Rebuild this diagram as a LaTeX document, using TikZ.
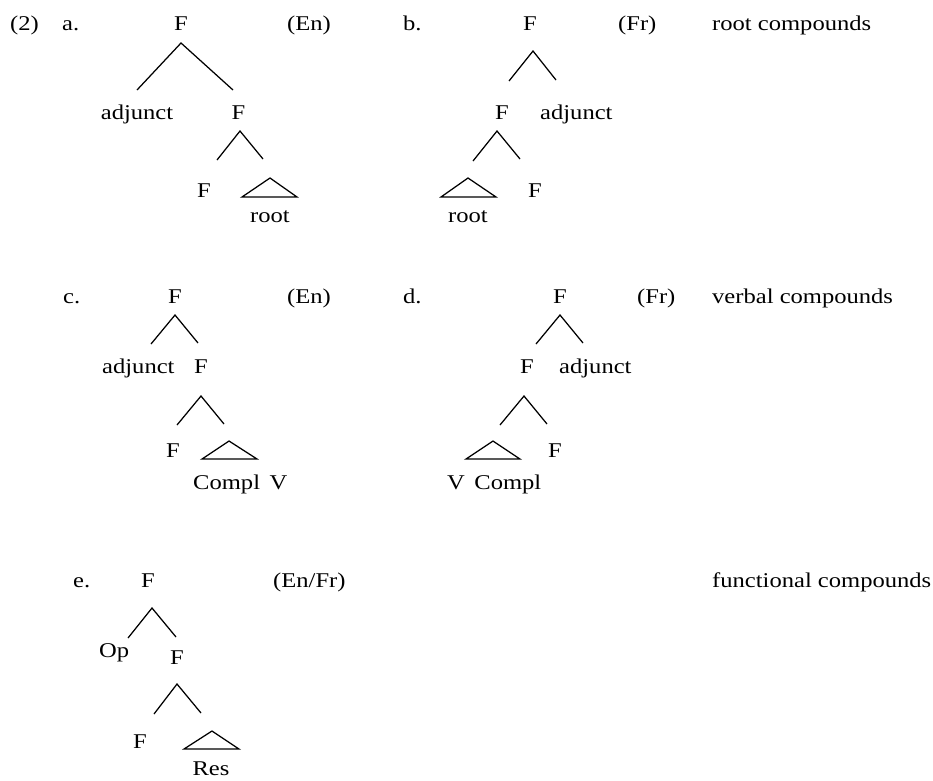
\documentclass[tikz,border=0pt]{standalone}
\usepackage{fontspec}
\setmainfont[FakeStretch=1.17]{Liberation Serif}
\begin{document}
\begin{tikzpicture}[x=1pt,y=-1pt,
  lab/.style={inner sep=0pt,anchor=base,font=\fontsize{21}{25}\selectfont},
  labw/.style={lab,anchor=base west},
  br/.style={line width=1.25pt},
  tri/.style={line width=1.25pt,line join=miter}]
\useasboundingbox (0,0) rectangle (933,780);
% ---------- row 1 ----------
\node[labw] (n2) at (10,30) {(2)};
\node[labw] (la) at (62,30) {a.};
\node[lab] (aF1) at (181,30) {F};
\node[labw] (aEn) at (287,30) {(En)};
\node[labw] (lb) at (403,30) {b.};
\node[lab] (bF1) at (530,30) {F};
\node[labw] (bFr) at (618,30) {(Fr)};
\node[labw] (rc) at (712,30) {root compounds};
% tree a
\coordinate (aA1) at (181,43); \coordinate (aL1) at (137,90); \coordinate (aR1) at (233,90);
\draw[br] (aL1) -- (aA1) -- (aR1);
\node[lab] (aAdj) at (137,119) {adjunct};
\node[lab] (aF2) at (238.5,119) {F};
\coordinate (aA2) at (240,131); \coordinate (aL2) at (217,160); \coordinate (aR2) at (263,159);
\draw[br] (aL2) -- (aA2) -- (aR2);
\node[lab] (aF3) at (204,197) {F};
\coordinate (aT1) at (270,178); \coordinate (aT2) at (242,197); \coordinate (aT3) at (297,197);
\draw[tri] (aT1) -- (aT2) -- (aT3) -- cycle;
\node[lab] (aRoot) at (270,222) {root};
% tree b
\coordinate (bA1) at (533,51); \coordinate (bL1) at (509,81); \coordinate (bR1) at (556,80);
\draw[br] (bL1) -- (bA1) -- (bR1);
\node[lab] (bF2) at (502,119) {F};
\node[labw] (bAdj) at (540,119) {adjunct};
\coordinate (bA2) at (497,131); \coordinate (bL2) at (473,161); \coordinate (bR2) at (520,159);
\draw[br] (bL2) -- (bA2) -- (bR2);
\coordinate (bT1) at (468,178); \coordinate (bT2) at (441,197); \coordinate (bT3) at (496,197);
\draw[tri] (bT1) -- (bT2) -- (bT3) -- cycle;
\node[lab] (bF3) at (535,197) {F};
\node[lab] (bRoot) at (468,222) {root};
% ---------- row 2 ----------
\node[labw] (lc) at (63,303) {c.};
\node[lab] (cF1) at (175,303) {F};
\node[labw] (cEn) at (287,303) {(En)};
\node[labw] (ld) at (403,303) {d.};
\node[lab] (dF1) at (560,303) {F};
\node[labw] (dFr) at (637,303) {(Fr)};
\node[labw] (vc) at (712,303) {verbal compounds};
% tree c
\coordinate (cA1) at (175,315); \coordinate (cL1) at (151,344); \coordinate (cR1) at (198,343);
\draw[br] (cL1) -- (cA1) -- (cR1);
\node[labw] (cAdj) at (102,373) {adjunct};
\node[lab] (cF2) at (201,373) {F};
\coordinate (cA2) at (201,396); \coordinate (cL2) at (177,425); \coordinate (cR2) at (224,424);
\draw[br] (cL2) -- (cA2) -- (cR2);
\node[lab] (cF3) at (173,457) {F};
\coordinate (cT1) at (229,441); \coordinate (cT2) at (202,459); \coordinate (cT3) at (257,459);
\draw[tri] (cT1) -- (cT2) -- (cT3) -- cycle;
\node[labw] (cCV) at (193,489) {Compl\hspace{0.45em}V};
% tree d
\coordinate (dA1) at (560,315); \coordinate (dL1) at (536,344); \coordinate (dR1) at (583,343);
\draw[br] (dL1) -- (dA1) -- (dR1);
\node[lab] (dF2) at (527,373) {F};
\node[labw] (dAdj) at (559,373) {adjunct};
\coordinate (dA2) at (524,396); \coordinate (dL2) at (500,425); \coordinate (dR2) at (547,424);
\draw[br] (dL2) -- (dA2) -- (dR2);
\coordinate (dT1) at (493,441); \coordinate (dT2) at (466,459); \coordinate (dT3) at (520,459);
\draw[tri] (dT1) -- (dT2) -- (dT3) -- cycle;
\node[lab] (dF3) at (555,457) {F};
\node[labw] (dVC) at (447,489) {V\hspace{0.45em}Compl};
% ---------- row 3 ----------
\node[labw] (le) at (73,587) {e.};
\node[lab] (eF1) at (148,587) {F};
\node[labw] (eEnFr) at (273,587) {(En/Fr)};
\node[labw] (fc) at (712,587) {functional compounds};
\coordinate (eA1) at (152,608); \coordinate (eL1) at (128,638); \coordinate (eR1) at (176,637);
\draw[br] (eL1) -- (eA1) -- (eR1);
\node[labw] (eOp) at (99,657) {Op};
\node[lab] (eF2) at (177,664) {F};
\coordinate (eA2) at (177,684); \coordinate (eL2) at (154,714); \coordinate (eR2) at (201,713);
\draw[br] (eL2) -- (eA2) -- (eR2);
\node[lab] (eF3) at (140,748) {F};
\coordinate (eT1) at (212,731); \coordinate (eT2) at (184,749); \coordinate (eT3) at (239,749);
\draw[tri] (eT1) -- (eT2) -- (eT3) -- cycle;
\node[lab] (eRes) at (211,775) {Res};
\end{tikzpicture}
\end{document}
